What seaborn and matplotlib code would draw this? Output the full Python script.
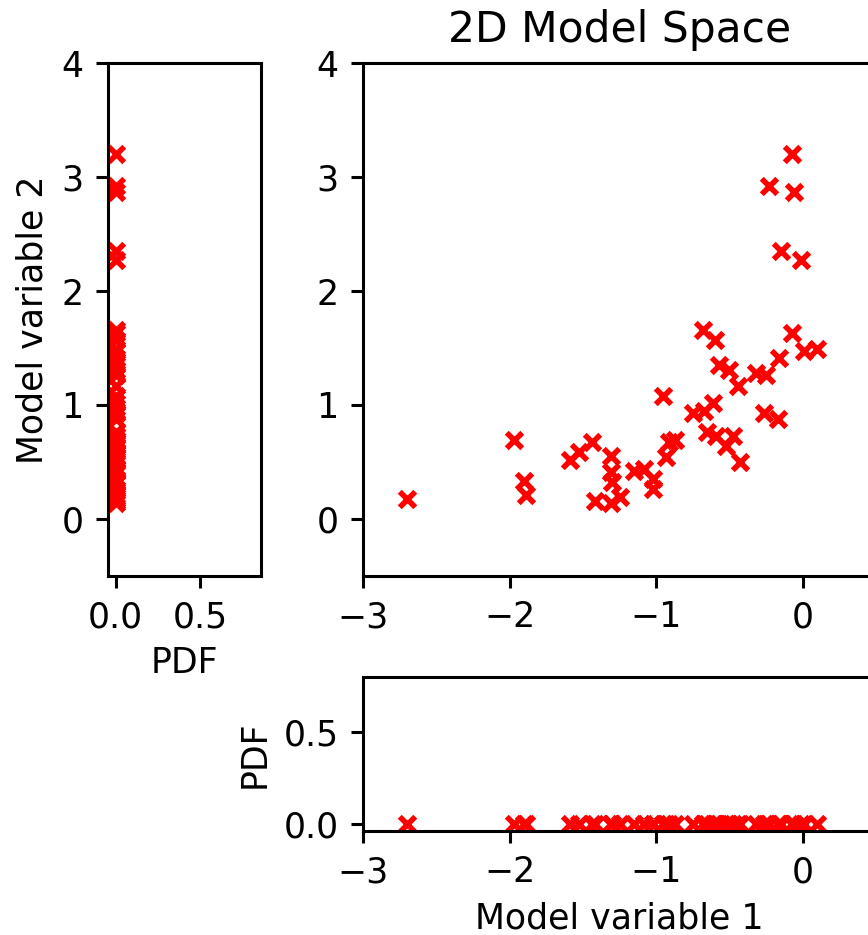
import matplotlib
matplotlib.use("Agg")
import matplotlib.pyplot as plt
import numpy as np
import seaborn as sns

# ======== data =============================================
model_var1 = [-2.70, -1.97, -1.90, -1.89, -1.59, -1.53, -1.44, -1.42, -1.31, -1.31,
              -1.30, -1.31, -1.25, -1.15, -1.08, -1.02, -1.02, -0.93, -0.91, -0.87,
              -0.95, -0.75, -0.67, -0.61, -0.68, -0.60, -0.65, -0.59, -0.57, -0.50,
              -0.44, -0.52, -0.475, -0.43, -0.32, -0.25, -0.26, -0.17, -0.16, -0.07,
              0.01, 0.10, -0.07, -0.23, -0.06, -0.15, -0.01]
model_var2 = [0.17, 0.69, 0.33, 0.21, 0.52, 0.59, 0.67, 0.16, 0.55, 0.41,
              0.32, 0.14, 0.19, 0.42, 0.44, 0.35, 0.26, 0.54, 0.67, 0.69,
              1.08, 0.93, 0.95, 1.02, 1.66, 1.57, 0.76, 0.73, 1.35, 1.31,
              1.17, 0.64, 0.73, 0.50, 1.28, 1.26, 0.93, 0.88, 1.41, 1.63,
              1.47, 1.49, 3.20, 2.92, 2.87, 2.35, 2.27]
# marginal pdf values are all ~0 in the picture
pdf_var1 = np.zeros(len(model_var1))
pdf_var2 = np.zeros(len(model_var2))

main_xticks = [-3, -2, -1, 0]
main_yticks = [0, 1, 2, 3, 4]
pdf_ticks = [0.0, 0.5]

# ======== style ============================================
plt.rcParams.update({
    "font.family": "DejaVu Sans",
    "font.size": 25,
    "axes.titlesize": 30.5,
    "axes.labelsize": 25,
    "xtick.labelsize": 25,
    "ytick.labelsize": 25,
    "axes.linewidth": 2.2,
    "xtick.major.width": 2.2,
    "ytick.major.width": 2.2,
    "xtick.major.size": 8.8,
    "ytick.major.size": 8.8,
    "xtick.major.pad": 8.8,
    "ytick.major.pad": 8.8,
    "axes.labelpad": 8.5,
    "axes.titlepad": 15,
})

W, H = 868, 935
fig = plt.figure(figsize=(W / 100, H / 100), dpi=100)

def px_axes(left, top, right, bottom):
    return fig.add_axes([left / W, 1 - bottom / H, (right - left) / W, (bottom - top) / H])

ax_main = px_axes(363.3, 63.3, 875.7, 575.7)
ax_left = px_axes(107.7, 63.3, 261.0, 575.7)
ax_bot = px_axes(363.3, 676.7, 875.7, 831.0)

mk = dict(marker="x", color="red", s=125, linewidth=4.0, legend=False)

# main 2D scatter
sns.scatterplot(x=model_var1, y=model_var2, ax=ax_main, **mk)
ax_main.set_xlim(-3, 0.5)
ax_main.set_ylim(-0.5, 4)
ax_main.set_xticks(main_xticks)
ax_main.set_yticks(main_yticks)
ax_main.set_title("2D Model Space")

# left marginal: pdf of variable 2
sns.scatterplot(x=pdf_var2, y=model_var2, ax=ax_left, **mk)
ax_left.set_xlim(-0.047, 0.862)
ax_left.set_ylim(-0.5, 4)
ax_left.set_xticks(pdf_ticks)
ax_left.set_yticks(main_yticks)
ax_left.set_xlabel("PDF")
ax_left.set_ylabel("Model variable 2")

# bottom marginal: pdf of variable 1
sns.scatterplot(x=model_var1, y=pdf_var1, ax=ax_bot, **mk)
ax_bot.set_xlim(-3, 0.5)
ax_bot.set_ylim(-0.038, 0.8)
ax_bot.set_xticks(main_xticks)
ax_bot.set_yticks(pdf_ticks)
ax_bot.set_xlabel("Model variable 1")
ax_bot.set_ylabel("PDF")

for ax in (ax_main, ax_left, ax_bot):
    for sp in ax.spines.values():
        sp.set_linewidth(2.2)

plt.savefig("out.png", dpi=100)
plt.close()
